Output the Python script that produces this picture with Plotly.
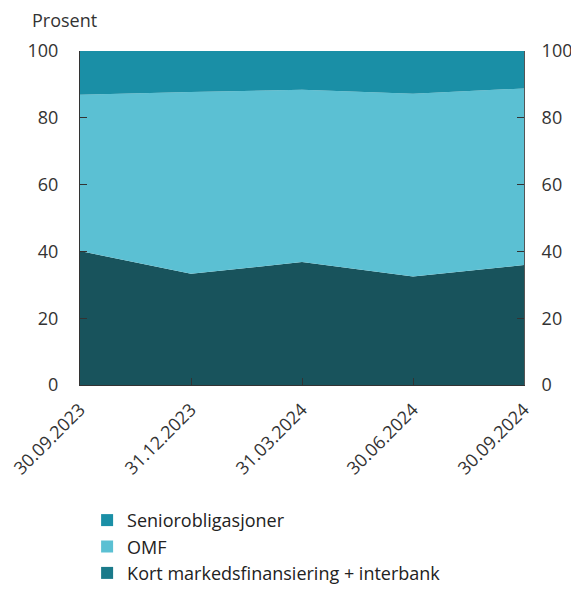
import plotly.graph_objects as go

dates = ["30.09.2023", "31.12.2023", "31.03.2024", "30.06.2024", "30.09.2024"]
kort = [40.1, 33.3, 36.8, 32.5, 35.9]
omf = [46.8, 54.4, 51.6, 54.7, 52.9]
senior = [13.1, 12.3, 11.6, 12.8, 11.2]

names = ["Kort markedsfinansiering + interbank", "OMF", "Seniorobligasjoner"]
series = [kort, omf, senior]
colors = ["#18535c", "#5bc0d3", "#1a8fa6"]
legend_colors = ["#1a7a8a", "#5bc0d3", "#1a8fa6"]

fig = go.Figure()
for n, s, c in zip(names, series, colors):
    fig.add_trace(go.Scatter(x=dates, y=s, name=n, stackgroup="one", mode="none",
                             fillcolor=c, line=dict(width=0), showlegend=False))
for i, (n, c) in enumerate(zip(names, legend_colors)):
    fig.add_trace(go.Scatter(x=[None], y=[None], name=n, mode="markers", legendgroup=f"g{i}",
                             marker=dict(symbol="square", size=12, color=c)))
fig.add_trace(go.Scatter(x=dates, y=[None]*len(dates), yaxis="y2", showlegend=False, hoverinfo="skip"))

font = dict(family="Open Sans", size=18, color="#333333")
fig.update_layout(
    width=571, height=582,
    margin=dict(l=72, r=55, t=43, b=205, autoexpand=False),
    plot_bgcolor="white", paper_bgcolor="white",
    font=font,
    showlegend=True,
    legend=dict(orientation="v", x=0.016, xanchor="left", y=-0.35, yanchor="top",
                traceorder="reversed", font=dict(family="Open Sans", size=18, color="#222222"),
                itemwidth=30, tracegroupgap=0),
    xaxis=dict(range=[0, 4], type="category", tickangle=-45, ticks="inside", ticklen=7,
               tickcolor="#333333", showline=True, linecolor="#333333", linewidth=1,
               showgrid=False, tickfont=font, ticklabelstandoff=6, automargin=False),
    yaxis=dict(range=[0, 100], tickvals=[0, 20, 40, 60, 80, 100], ticks="inside", ticklen=7,
               tickcolor="#333333", showline=True, linecolor="#333333", showgrid=False,
               zeroline=False, tickfont=font, ticklabelstandoff=17, automargin=False),
    yaxis2=dict(range=[0, 100], tickvals=[0, 20, 40, 60, 80, 100], ticks="inside", ticklen=7,
                tickcolor="#333333", showline=True, linecolor="#555555", overlaying="y",
                side="right", showgrid=False, zeroline=False, tickfont=font, ticklabelstandoff=13,
                automargin=False),
    annotations=[dict(text="Prosent", xref="paper", yref="paper", x=-0.112, y=1.092,
                      xanchor="left", yanchor="middle", showarrow=False, font=font)],
)
fig.write_html("out.html")
